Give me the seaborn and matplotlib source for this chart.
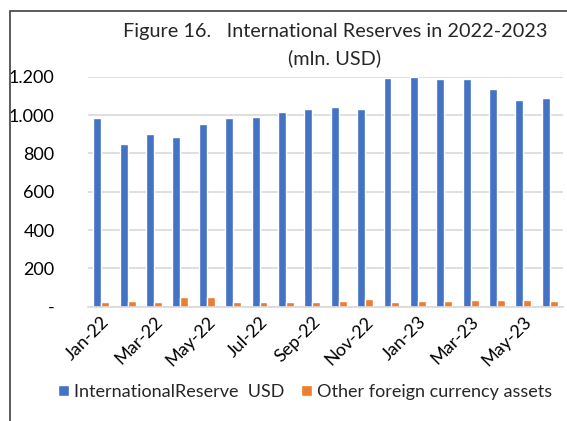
"""
international reserves bar chart, 2022-2023
"""
import pandas as pd
import matplotlib
matplotlib.use("Agg")
import matplotlib.pyplot as plt
from matplotlib.patches import Rectangle
from matplotlib.ticker import FuncFormatter
import seaborn as sns

months = ["Jan-22", "Feb-22", "Mar-22", "Apr-22", "May-22", "Jun-22",
          "Jul-22", "Aug-22", "Sep-22", "Oct-22", "Nov-22", "Dec-22",
          "Jan-23", "Feb-23", "Mar-23", "Apr-23", "May-23", "Jun-23"]
reserve_usd = [984, 847, 899, 885, 951, 983, 990, 1017, 1030, 1043, 1031,
               1195, 1200, 1188, 1186, 1137, 1077, 1090]
other_assets = [26, 31, 26, 50, 49, 26, 26, 26, 26, 28, 42, 26, 28, 28,
                34, 36, 34, 28]
series_names = ["InternationalReserve  USD", "Other foreign currency assets"]

df = pd.DataFrame({
    "month": months * 2,
    "value": reserve_usd + other_assets,
    "series": [series_names[0]] * len(months) + [series_names[1]] * len(months),
})

sns.set_theme(style="white")
plt.rcParams['font.family'] = ['Lato', 'DejaVu Sans']

fig = plt.figure(figsize=(5.67, 4.21), dpi=100)
ax = fig.add_axes([88 / 567, 1 - 306.7 / 421, 475 / 567, 230 / 421])

sns.barplot(data=df, x="month", y="value", hue="series", order=months,
            hue_order=series_names, palette=["#4472C4", "#ED7D31"],
            width=0.6, saturation=1, ax=ax)

ax.set_ylim(0, 1200)
ax.set_xlim(-0.5, len(months) - 0.5)
ax.set_yticks(range(0, 1201, 200))
ax.yaxis.set_major_formatter(FuncFormatter(
    lambda v, p: "-" if v == 0 else "{:,.0f}".format(v).replace(",", ".")))
ax.set_xticks(range(0, len(months), 2))
ax.set_xticklabels(months[::2], rotation=45, ha="right",
                   rotation_mode="anchor")
ax.tick_params(axis="both", length=0, labelsize=13, colors="#000000")
ax.tick_params(axis="x", pad=5)
ax.tick_params(axis="y", pad=24)
ax.grid(axis="y", color="#d9d9d9", linewidth=1.2)
ax.set_axisbelow(True)
for s in ["top", "right", "left"]:
    ax.spines[s].set_visible(False)
ax.spines["bottom"].set_color("#d9d9d9")
ax.spines["bottom"].set_linewidth(1.2)
ax.set_xlabel("")
ax.set_ylabel("")

handles, labels = ax.get_legend_handles_labels()
ax.legend(handles, labels, loc="center", bbox_to_anchor=(305 / 567, 1 - 392 / 421),
          bbox_transform=fig.transFigure, ncol=2, frameon=False,
          fontsize=13, handlelength=0.6, handleheight=0.6,
          handletextpad=0.3, columnspacing=0.9)

fig.text(335 / 567, 1 - 31 / 421, "Figure 16.   International Reserves in 2022-2023",
         ha="center", va="center", fontsize=14.3)
fig.text(335 / 567, 1 - 58 / 421, "(mln. USD)", ha="center", va="center",
         fontsize=14.3)

# outer frame, only left and top edges visible in the crop
fig.patches.append(Rectangle((10 / 567, -0.1), 1.2, 1 - 11 / 421 + 0.1,
                             transform=fig.transFigure, fill=False,
                             edgecolor="#404040", linewidth=1.2))

fig.savefig("out.png", dpi=100)
